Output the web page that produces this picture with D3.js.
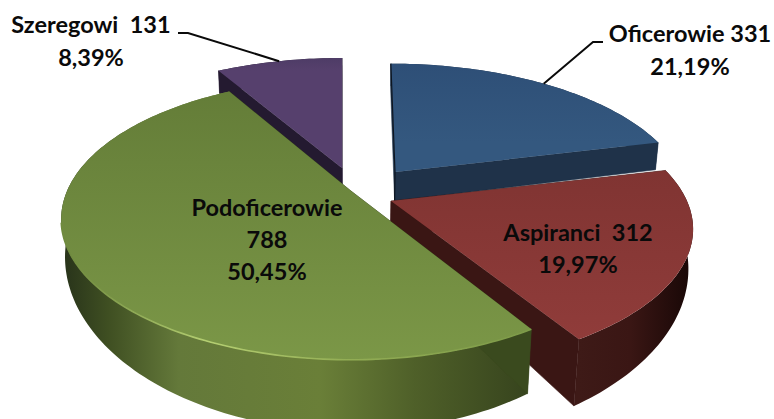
<!DOCTYPE html>
<html>
<head>
<meta charset="utf-8">
<script src="https://cdn.jsdelivr.net/npm/d3@7"></script>
<style>
    html, body { margin: 0; padding: 0; background: #fff; }
    svg { display: block; }
    text { font-family: Lato, "Noto Sans", sans-serif; font-weight: 700; font-size: 23.5px; fill: #0a0a0a; white-space: pre; }
</style>
</head>
<body>
<svg width="774" height="419"></svg>
<script>
// data, in the order of the pie
var categories = ["Oficerowie", "Aspiranci", "Podoficerowie", "Szeregowi"];
var counts = [331, 312, 788, 131];
var percents = ["21,19%", "19,97%", "50,45%", "8,39%"];

// look of each slice: [top far, top near], radial wall, rim wall stops
var topColors = [["#2e4f77", "#34587f"], ["#803432", "#903c3a"], ["#647d38", "#7b9747"], ["#4e3c66", "#56406d"]];
var sideColors = ["#1f3249", "#3a1614", "#3a4a1e", "#241a30"];
var rimStops = [
    [[0, "#1f3249"], [1, "#1f3249"]],
    [[0, "#3e1a17"], [0.45, "#3a1614"], [1, "#170706"]],
    [[0, "#27321a"], [0.1, "#3f4f22"], [0.25, "#64793a"], [0.55, "#6a7f38"], [0.75, "#4f6029"], [1, "#36431d"]],
    [[0, "#241a30"], [1, "#241a30"]]
];

// where each slice's apex ended up after exploding the pie, and how big it came out
var apexX = [395, 391, 351, 342];
var apexY = [172, 201, 191, 168];
var radiusX = [285, 296, 284, 288];
var radiusY = [130, 135, 135, 132];
var lean = [5, 0, 0, 0];

// back to front
var drawOrder = [3, 0, 1, 2];

var svg = d3.select("svg");
var defs = svg.append("defs");

// the perspective of the pie
var tilt = 0.2;
var scX = radiusX.map(r => d3.scaleLinear().domain([0, 1]).range([0, r]));
var scY = radiusY.map(r => d3.scaleLinear().domain([0, 1]).range([0, r]));
var depth = d3.scaleLinear().domain([60, 172, 340]).range([22, 29, 67]);

var pie = d3.pie().sort(null).startAngle(0).endAngle(2 * Math.PI);
var slices = pie(counts);

function rimPoint(i, a) {
    var w = 1 + tilt * Math.cos(a);
    return [
        apexX[i] + scX[i](Math.sin(a) / w) - lean[i] * Math.cos(a) / w,
        apexY[i] - scY[i](Math.cos(a) / w)
    ];
}

// same point pushed down to the bottom face of the pie
function lower(p) {
    var d = depth(p[1]);
    return [p[0] + (355 - p[0]) * d / 3000, p[1] + d];
}

function arcPoints(i, a0, a1) {
    var n = Math.ceil((a1 - a0) / 0.02);
    return d3.range(n + 1).map(function(k) {
        return rimPoint(i, a0 + (a1 - a0) * k / n);
    });
}

var line = d3.line();

function drawSlice(d, i) {
    var g = svg.append("g");
    var apex = [apexX[i], apexY[i]];
    var rim = arcPoints(i, d.startAngle, d.endAngle);
    var first = rim[0];
    var last = rim[rim.length - 1];

    // rim wall
    var xs = d3.extent(rim, p => p[0]);
    var rimId = "rim" + i;
    var grad = defs.append("linearGradient")
        .attr("id", rimId)
        .attr("gradientUnits", "userSpaceOnUse")
        .attr("x1", i == 1 ? last[0] : xs[0]).attr("x2", xs[1])
        .attr("y1", 0).attr("y2", 0);
    rimStops[i].forEach(function(s) {
        grad.append("stop")
            .attr("offset", s[0])
            .attr("stop-color", s[1]);
    });
    g.append("path")
        .attr("fill", "url(#" + rimId + ")")
        .attr("d", line(rim.concat(rim.map(lower).reverse())) + "Z");

    // radial walls
    [first, last].forEach(function(p) {
        g.append("path")
            .attr("fill", sideColors[i])
            .attr("stroke", sideColors[i])
            .attr("stroke-width", 0.6)
            .attr("d", line([apex, p, lower(p), lower(apex)]) + "Z");
    });

    // top face
    var topId = "top" + i;
    var ys = d3.extent(rim, p => p[1]);
    var tg = defs.append("linearGradient")
        .attr("id", topId)
        .attr("gradientUnits", "userSpaceOnUse")
        .attr("x1", 0).attr("x2", 0)
        .attr("y1", ys[0]).attr("y2", ys[1]);
    tg.append("stop").attr("offset", 0).attr("stop-color", topColors[i][0]);
    tg.append("stop").attr("offset", 1).attr("stop-color", topColors[i][1]);
    g.append("path")
        .attr("fill", "url(#" + topId + ")")
        .attr("d", line([apex].concat(rim)) + "Z");

    // the blue slice shows a thin dark sliver on its left edge
    if (i == 0) {
        g.append("path")
            .attr("fill", "none")
            .attr("stroke", "#0d1520")
            .attr("stroke-width", 1.2)
            .attr("d", line([first, apex, lower(apex)]));
    }
}

drawOrder.forEach(function(i) {
    drawSlice(slices[i], i);
});

// light edge along the front of the green slice
var shine = defs.append("linearGradient")
    .attr("id", "shine")
    .attr("gradientUnits", "userSpaceOnUse")
    .attr("x1", 70).attr("x2", 530)
    .attr("y1", 0).attr("y2", 0);
[[0, "#6f8a3e"], [0.3, "#b5cf72"], [0.6, "#93ae55"], [1, "#7d9a48"]].forEach(function(s) {
    shine.append("stop").attr("offset", s[0]).attr("stop-color", s[1]);
});
svg.append("path")
    .attr("fill", "none")
    .attr("stroke", "url(#shine)")
    .attr("stroke-width", 1.6)
    .attr("d", line(arcPoints(2, slices[2].startAngle, slices[2].startAngle + 1.9)));

// leader lines, they leave the rim at the middle of the slice
function midRim(i) {
    return rimPoint(i, (slices[i].startAngle + slices[i].endAngle) / 2);
}

function leader(i, elbowX, elbowY, endX) {
    svg.append("path")
        .attr("fill", "none")
        .attr("stroke", "#0a0a0a")
        .attr("stroke-width", 2)
        .attr("d", line([midRim(i), [elbowX, elbowY], [endX, elbowY]]));
}
leader(0, 593, 42, 603);
leader(3, 188, 33, 178);

// labels
function label(x, y, s) {
    svg.append("text")
        .attr("x", x)
        .attr("y", y)
        .attr("text-anchor", "middle")
        .text(s);
}
label(690, 42, categories[0] + " " + counts[0]);
label(690, 75, percents[0]);
label(578, 241, categories[1] + "  " + counts[1]);
label(578, 273, percents[1]);
label(267, 216, categories[2]);
label(267, 248, counts[2]);
label(267, 280, percents[2]);
label(91, 33, categories[3] + "  " + counts[3]);
label(91, 66, percents[3]);
</script>
</body>
</html>
